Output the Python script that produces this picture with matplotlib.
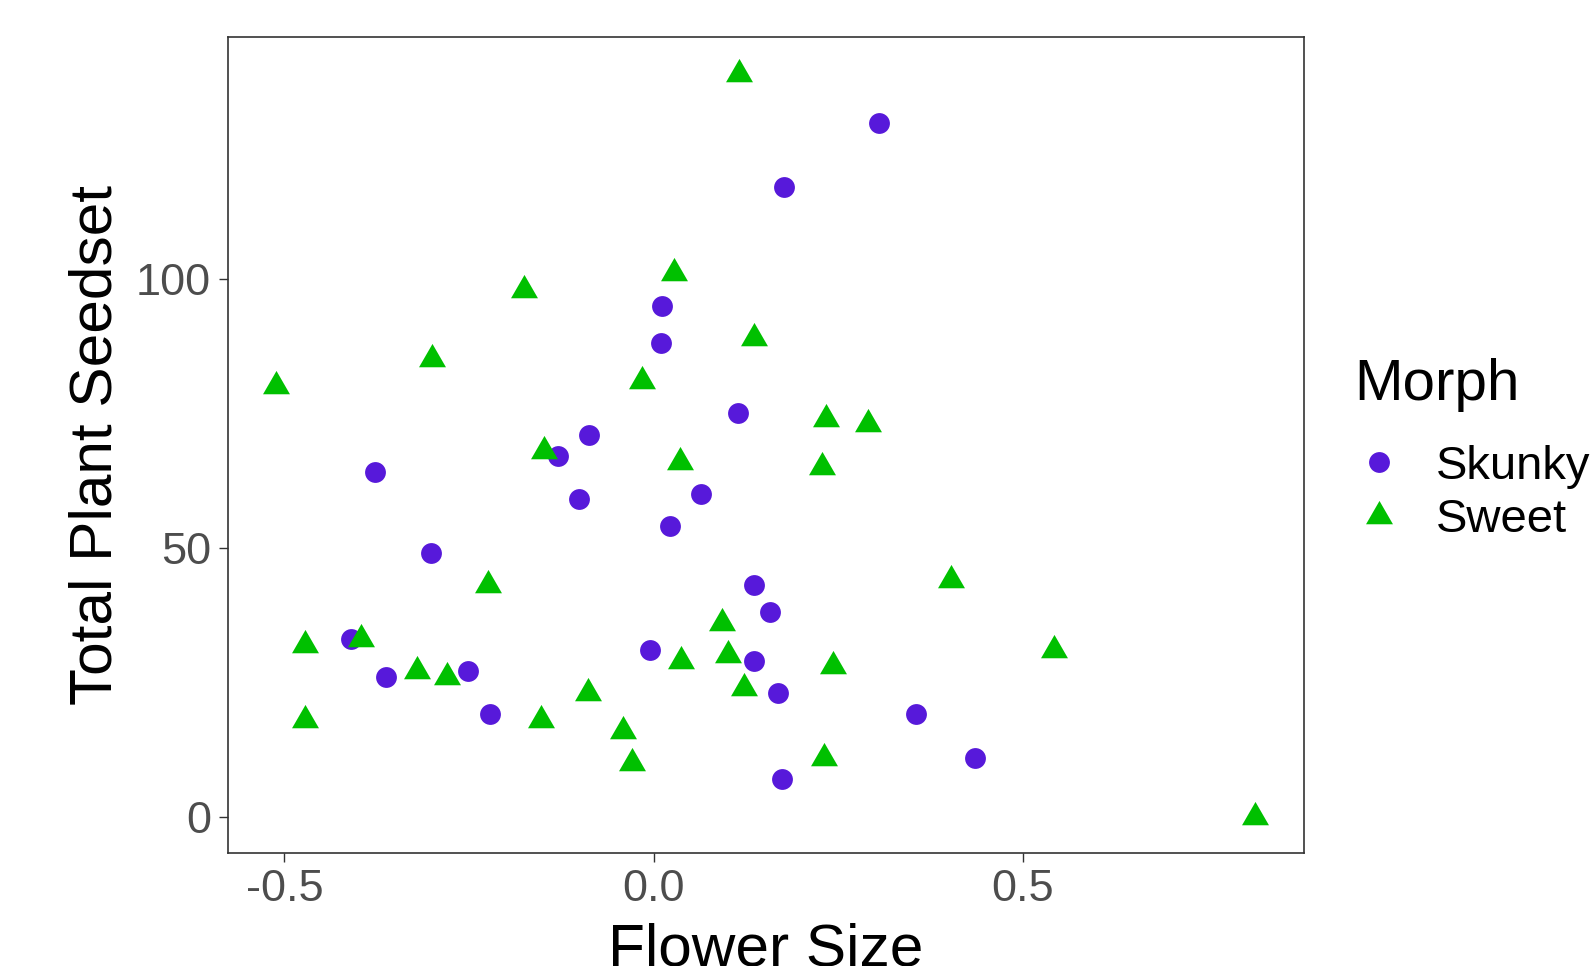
import matplotlib
matplotlib.use("Agg")
import matplotlib.pyplot as plt
from matplotlib.path import Path
import numpy as np

plt.rcParams['font.family'] = ['Liberation Sans', 'DejaVu Sans']

# Skunky morph (circles)
skunky_size = [0.011, 0.010, -0.088, 0.305, 0.176, 0.114, -0.129, -0.378, -0.101, 0.022,
               0.064, -0.301, -0.410, -0.362, -0.251, -0.222, -0.005, 0.136, 0.158, 0.136,
               0.169, 0.356, 0.436, 0.174]
skunky_seed = [95, 88, 71, 129, 117, 75, 67, 64, 59, 54,
               60, 49, 33, 26, 27, 19, 31, 43, 38, 29,
               23, 19, 11, 7]

# Sweet morph (triangles)
sweet_size = [-0.511, -0.300, -0.175, -0.016, 0.116, 0.028, 0.136, 0.234, 0.291, -0.148,
              0.036, 0.228, -0.224, -0.472, -0.396, -0.320, -0.280, -0.472, -0.152, -0.089,
              -0.041, -0.029, 0.403, 0.093, 0.037, 0.101, 0.122, 0.243, 0.543, 0.231, 0.815]
sweet_seed = [80, 85, 98, 81, 138, 101, 89, 74, 73, 68,
              66, 65, 43, 32, 33, 27, 26, 18, 18, 23,
              16, 10, 44, 36, 29, 30, 24, 28, 31, 11, 0]

# triangle with its centroid at the origin, like R's pch 17
tri = Path([(0, 1), (-0.866, -0.5), (0.866, -0.5), (0, 1)],
           [Path.MOVETO, Path.LINETO, Path.LINETO, Path.CLOSEPOLY])

fig = plt.figure(figsize=(15.96, 9.66), dpi=100)
ax = fig.add_axes([0.1431, 0.1167, 0.8170 - 0.1431, 0.9614 - 0.1167])

ax.plot(skunky_size, skunky_seed, linestyle='none', marker='o', markersize=15,
        markeredgewidth=0, color='#5719da', label='Skunky')
ax.plot(sweet_size, sweet_seed, linestyle='none', marker=tri, markersize=22.4,
        markeredgewidth=0, color='#00c000', label='Sweet')

ax.set_xlim(-0.576, 0.881)
ax.set_ylim(-6.8, 144.9)
ax.set_xticks([-0.5, 0.0, 0.5])
ax.set_xticklabels(['-0.5', '0.0', '0.5'])
ax.set_yticks([0, 50, 100])

for s in ax.spines.values():
    s.set_color('#333333')
    s.set_linewidth(1.2)
ax.tick_params(axis='both', length=6.5, width=1.0, color='#333333',
               labelcolor='#4d4d4d', labelsize=32.5)
ax.tick_params(axis='x', pad=5)
ax.tick_params(axis='y', pad=6)

ax.set_xlabel('Flower Size', fontsize=43.5, labelpad=9)
ax.set_ylabel('Total Plant Seedset', fontsize=43.5, labelpad=9)

# legend title drawn on its own so the gap to the keys matches ggplot
fig.text(1354 / 1596, 1 - 385 / 966, 'Morph', fontsize=42, ha='left', va='center')
leg = fig.legend(loc='upper left', bbox_to_anchor=(1358 / 1596, 1 - 445 / 966),
                 frameon=False, fontsize=34, handletextpad=0.75, labelspacing=0.2,
                 handlelength=0.9, borderaxespad=0, borderpad=0)

fig.savefig('out.png', dpi=100)
